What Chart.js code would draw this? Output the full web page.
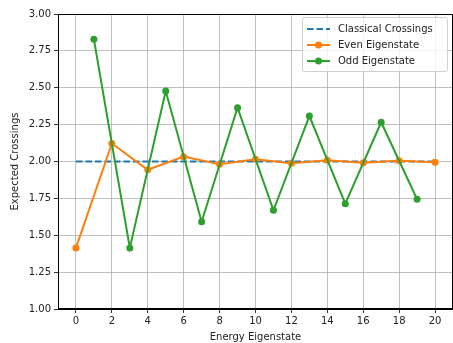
<!DOCTYPE html>
<html>
<head>
<meta charset="utf-8">
<script src="https://cdn.jsdelivr.net/npm/chart.js@4/dist/chart.umd.min.js"></script>
<style>
  html, body { margin: 0; padding: 0; background: #fff; }
  #wrap { position: relative; width: 453px; height: 343px; }
</style>
</head>
<body>
<div id="wrap"><canvas id="myChart"></canvas></div>
<script>
const classicalX = [0, 1, 2, 3, 4, 5, 6, 7, 8, 9, 10, 11, 12, 13, 14, 15, 16, 17, 18, 19, 20];
const classicalY = [2, 2, 2, 2, 2, 2, 2, 2, 2, 2, 2, 2, 2, 2, 2, 2, 2, 2, 2, 2, 2];
const evenX = [0, 2, 4, 6, 8, 10, 12, 14, 16, 18, 20];
const evenY = [1.414, 2.122, 1.944, 2.033, 1.981, 2.015, 1.988, 2.008, 1.992, 2.005, 1.995];
const oddX = [1, 3, 5, 7, 9, 11, 13, 15, 17, 19];
const oddY = [2.828, 1.414, 2.478, 1.592, 2.365, 1.669, 2.308, 1.714, 2.266, 1.744];
const xTicks = [0, 2, 4, 6, 8, 10, 12, 14, 16, 18, 20];
const labels = ["Classical Crossings", "Even Eigenstate", "Odd Eigenstate"];

const font = { family: "DejaVu Sans", size: 10 };
const pts = (xs, ys) => xs.map((x, i) => ({ x: x, y: ys[i] }));

// frame on all four sides + legend inside the axes, like matplotlib
const framePlugin = {
  id: "frame",
  afterDraw(chart) {
    const { ctx, chartArea: a } = chart;
    ctx.save();
    ctx.strokeStyle = "#000";
    ctx.lineWidth = 1;
    ctx.strokeRect(a.left + 0.5, a.top + 0.5, a.right - a.left - 1, a.bottom - a.top - 1);

    // legend box
    const bx = 302.5, by = 17.5, bw = 145, bh = 54;
    ctx.fillStyle = "rgba(255,255,255,0.8)";
    ctx.strokeStyle = "#d0d0d0";
    ctx.beginPath();
    ctx.roundRect(bx, by, bw, bh, 2);
    ctx.fill();
    ctx.stroke();
    ctx.font = "10px DejaVu Sans";
    ctx.textBaseline = "middle";
    chart.data.datasets.forEach((ds, i) => {
      const y = 29 + i * 16;
      ctx.strokeStyle = ds.borderColor;
      ctx.lineWidth = 2;
      ctx.setLineDash(ds.borderDash || []);
      ctx.beginPath();
      ctx.moveTo(307, y);
      ctx.lineTo(330, y);
      ctx.stroke();
      ctx.setLineDash([]);
      if (ds.pointRadius > 0) {
        ctx.fillStyle = ds.borderColor;
        ctx.beginPath();
        ctx.arc(318.5, y, 3.5, 0, Math.PI * 2);
        ctx.fill();
      }
      ctx.fillStyle = "#222";
      ctx.fillText(ds.label, 338, y + 0.5);
    });
    ctx.restore();
  }
};

new Chart(document.getElementById("myChart"), {
  type: "line",
  data: {
    datasets: [
      {
        label: labels[0],
        data: pts(classicalX, classicalY),
        borderColor: "#1f77b4",
        borderWidth: 2,
        borderDash: [6.5, 3],
        pointRadius: 0,
        order: 3
      },
      {
        label: labels[1],
        data: pts(evenX, evenY),
        borderColor: "#ff7f0e",
        backgroundColor: "#ff7f0e",
        borderWidth: 2,
        pointRadius: 3.5,
        pointBorderWidth: 0,
        order: 2
      },
      {
        label: labels[2],
        data: pts(oddX, oddY),
        borderColor: "#2ca02c",
        backgroundColor: "#2ca02c",
        borderWidth: 2,
        pointRadius: 3.5,
        pointBorderWidth: 0,
        order: 1
      }
    ]
  },
  options: {
    responsive: true,
    maintainAspectRatio: false,
    animation: false,
    layout: { autoPadding: false, padding: { left: 0, right: 0, top: 14, bottom: 0 } },
    plugins: { legend: { display: false }, tooltip: { enabled: false } },
    scales: {
      x: {
        type: "linear",
        min: -1,
        max: 21,
        afterBuildTicks: (s) => { s.ticks = xTicks.map(v => ({ value: v })); },
        afterFit: (s) => { s.height = 34; s.paddingLeft = 0; s.paddingRight = 0; },
        grid: { color: "#b0b0b0", lineWidth: 0.8, tickColor: "#000", tickLength: 4 },
        border: { color: "#000" },
        ticks: { color: "#222", font: font, padding: 2, maxRotation: 0 },
        title: { display: true, text: "Energy Eigenstate", color: "#222", font: font, padding: { top: 0, bottom: 0 } }
      },
      y: {
        min: 1,
        max: 3,
        afterFit: (s) => { s.width = 58; s.paddingTop = 0; s.paddingBottom = 0; },
        grid: { color: "#b0b0b0", lineWidth: 0.8, tickColor: "#000", tickLength: 4 },
        border: { color: "#000" },
        ticks: { stepSize: 0.25, color: "#222", font: font, padding: 3, callback: (v) => v.toFixed(2) },
        title: { display: true, text: "Expected Crossings", color: "#222", font: font, padding: { top: 9, bottom: 0 } }
      }
    }
  },
  plugins: [framePlugin]
});
</script>
</body>
</html>
